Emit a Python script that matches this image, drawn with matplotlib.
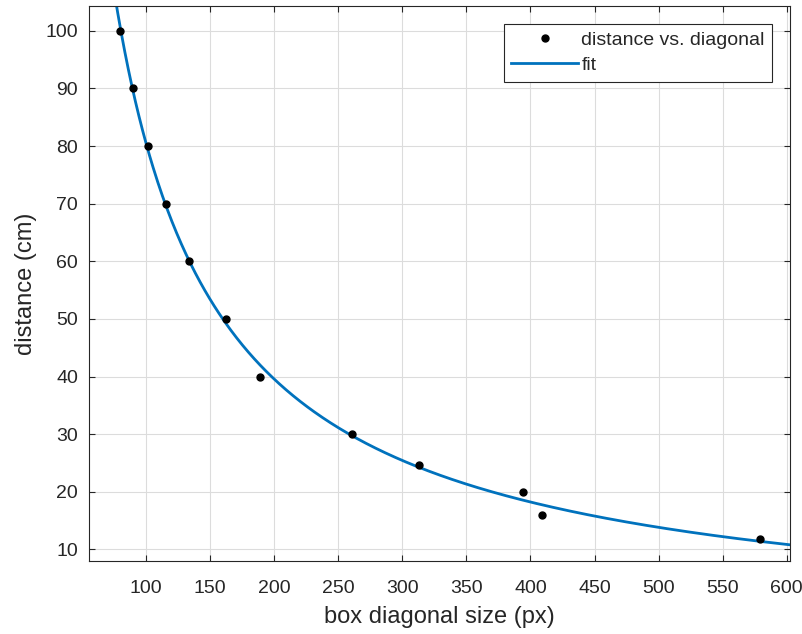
import numpy as np
import matplotlib.pyplot as plt

# measured points (box diagonal px, distance cm)
diagonal = [79.7, 89.8, 101.5, 115.6, 133.6, 162.5, 189.0, 261.0, 313.0, 394.5, 408.6, 579.0]
distance = [100, 90, 80, 70, 60, 50, 40, 30, 24.6, 19.9, 15.9, 11.9]

x_ticks = [100, 150, 200, 250, 300, 350, 400, 450, 500, 550, 600]
y_ticks = [10, 20, 30, 40, 50, 60, 70, 80, 90, 100]


def power2_fit(x, y):
    # y = a * x^b + c, grid over b, least squares for a and c
    x = np.asarray(x, float)
    y = np.asarray(y, float)
    best = None
    for b in np.linspace(-3, -0.2, 2801):
        A = np.column_stack([x ** b, np.ones_like(x)])
        coef, res, _, _ = np.linalg.lstsq(A, y, rcond=None)
        err = np.sum((A @ coef - y) ** 2)
        if best is None or err < best[0]:
            best = (err, coef[0], b, coef[1])
    return best[1:]


a, b, c = power2_fit(diagonal, distance)

plt.rcParams['font.family'] = ['Liberation Sans', 'DejaVu Sans']

fig = plt.figure(figsize=(8.03, 6.34), dpi=100)
ax = fig.add_axes([89 / 803, 1 - 561 / 634, (790 - 89) / 803, (561 - 6) / 634])

xs = np.linspace(55, 605, 600)
ax.plot(diagonal, distance, 'o', color='black', markersize=5,
        label='distance vs. diagonal', zorder=3)
ax.plot(xs, a * xs ** b + c, color='#0072BD', linewidth=2, label='fit', zorder=2)

ax.set_xlim(55.5, 602.5)
ax.set_ylim(8, 104.3)
ax.set_xticks(x_ticks)
ax.set_yticks(y_ticks)
ax.grid(True, color='#dcdcdc', linewidth=0.8)
ax.set_axisbelow(True)
ax.tick_params(direction='in', top=True, right=True, labelsize=14,
               colors='#262626', length=4)
ax.tick_params(axis='x', pad=14)
ax.tick_params(axis='y', pad=8)
for s in ax.spines.values():
    s.set_color('#262626')
    s.set_linewidth(0.8)

ax.set_xlabel('box diagonal size (px)', fontsize=17, color='#262626', labelpad=6)
ax.set_ylabel('distance (cm)', fontsize=17, color='#262626', labelpad=6)

leg = ax.legend(loc='upper right', fontsize=14, fancybox=False,
                edgecolor='#262626', framealpha=1, borderaxespad=0.9,
                handlelength=3.45, handletextpad=0.15, borderpad=0.4,
                labelspacing=0.4, labelcolor='#262626')
leg.get_frame().set_linewidth(0.8)

fig.savefig('out.png', dpi=100)
